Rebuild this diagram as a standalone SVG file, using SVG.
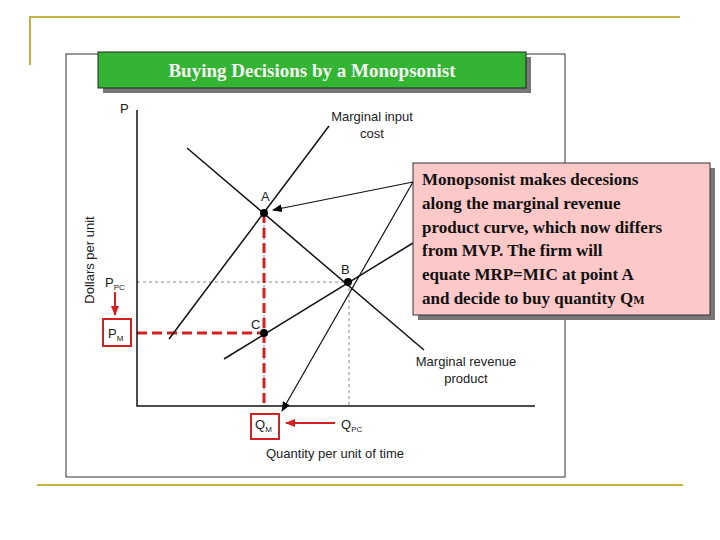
<svg xmlns="http://www.w3.org/2000/svg" width="720" height="540" viewBox="0 0 720 540">
<defs>
<marker id="ah" markerWidth="10" markerHeight="8" refX="9" refY="4" orient="auto" markerUnits="userSpaceOnUse"><path d="M0,0 L10,4 L0,8 z" fill="#000"/></marker>
<marker id="rh" markerWidth="10" markerHeight="8" refX="9" refY="4" orient="auto" markerUnits="userSpaceOnUse"><path d="M0,0 L10,4 L0,8 z" fill="#d42020"/></marker>
</defs>
<style>
.s{font-family:"Liberation Sans",Arial,sans-serif;font-size:13px;fill:#222}
.sub{font-size:8px}
.b{font-family:"Liberation Serif","Times New Roman",serif;font-weight:bold;font-size:17px;fill:#111}
.gray{stroke:#888;stroke-dasharray:3,3;stroke-width:1;fill:none}
.red{stroke:#d42020;stroke-dasharray:10,5;stroke-width:3;fill:none}
.ln{stroke:#111;stroke-width:1.5;fill:none}
</style>
<rect width="720" height="540" fill="#fff"/>
<g id="decor" stroke="#c8b040" stroke-width="2" fill="none">
<path d="M30,65 V17 H680"/><path d="M37,485 H683"/>
</g>
<rect id="frame" x="66" y="54" width="499" height="423" fill="#fff" stroke="#333" stroke-width="1"/>
<g id="title">
<rect x="103" y="57" width="428" height="36" fill="#777"/>
<rect x="98" y="52" width="428" height="36" fill="#33b533" stroke="#222" stroke-width="1"/>
<text x="312" y="77" text-anchor="middle" font-family="Liberation Serif,serif" font-weight="bold" font-size="19" fill="#f4f4f4">Buying Decisions by a Monopsonist</text>
</g>
<g id="guides">
<path class="gray" d="M137,282 H348 M349,282 V406 M264,213 V406"/>
<path class="red" d="M264,213 V406 M137,333 H264"/>
</g>
<g id="axes" class="ln" stroke-width="2">
<path d="M137,110 V406 H535"/>
</g>
<g id="curves" class="ln">
<line x1="169" y1="339" x2="329" y2="126"/>
<line x1="187" y1="148" x2="424" y2="350"/>
<line x1="224" y1="359" x2="413" y2="243"/>
</g>
<g id="points" fill="#000">
<circle cx="264" cy="213" r="4"/><circle cx="348" cy="282" r="4"/><circle cx="264" cy="333" r="4"/>
</g>
<g id="labels" class="s">
<text x="120" y="113">P</text>
<text x="261" y="201">A</text><text x="341" y="274">B</text><text x="251" y="329">C</text>
<text transform="translate(94,260) rotate(-90)" text-anchor="middle">Dollars per unit</text>
<text x="105" y="287">P<tspan class="sub" dy="3">PC</tspan></text>
<text x="108" y="338">P<tspan class="sub" dy="3">M</tspan></text>
<text x="255" y="429">Q<tspan class="sub" dy="3">M</tspan></text>
<text x="341" y="429">Q<tspan class="sub" dy="3">PC</tspan></text>
<text x="335" y="458" text-anchor="middle">Quantity per unit of time</text>
<text x="372" y="121" text-anchor="middle">Marginal input</text>
<text x="372" y="138" text-anchor="middle">cost</text>
<text x="466" y="366" text-anchor="middle">Marginal revenue</text>
<text x="466" y="383" text-anchor="middle">product</text>
</g>
<g id="redmarks" stroke="#d42020" stroke-width="2" fill="none">
<rect x="103" y="319" width="28" height="27"/>
<rect x="251" y="414" width="28" height="25"/>
<line x1="115" y1="292" x2="115" y2="315" marker-end="url(#rh)"/>
<line x1="335" y1="423" x2="286" y2="423" marker-end="url(#rh)"/>
</g>
<g id="callout">
<rect x="418" y="168" width="297" height="152" fill="#777"/>
<rect x="413" y="163" width="297" height="152" fill="#fcc8c8" stroke="#333" stroke-width="1"/>
<text class="b" x="422" y="185">Monopsonist makes decesions</text>
<text class="b" x="422" y="209">along the marginal revenue</text>
<text class="b" x="422" y="233">product curve, which now differs</text>
<text class="b" x="422" y="256">from MVP.  The firm will</text>
<text class="b" x="422" y="280">equate MRP=MIC at point A</text>
<text class="b" x="422" y="304">and decide to buy quantity Q<tspan font-size="12">M</tspan></text>
</g>
<g id="connectors" stroke="#111" stroke-width="1.2">
<line x1="413" y1="182" x2="273" y2="210" marker-end="url(#ah)"/>
<line x1="413" y1="182" x2="282" y2="411" marker-end="url(#ah)"/>
</g>
</svg>
